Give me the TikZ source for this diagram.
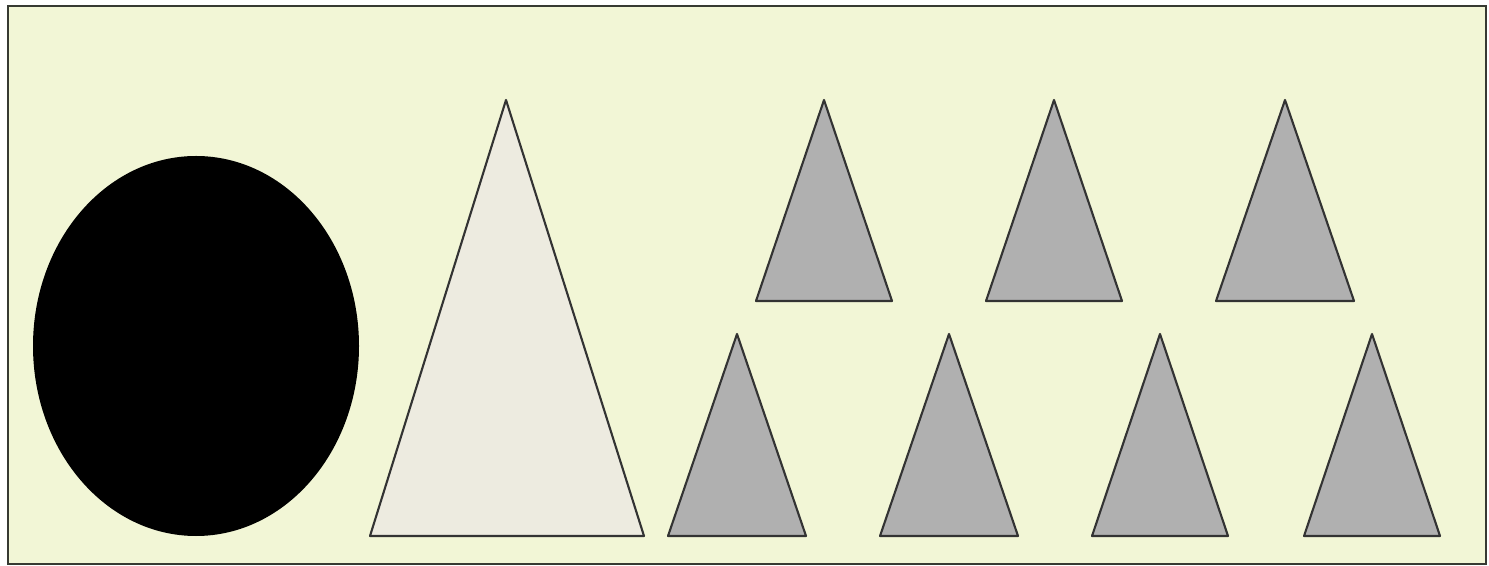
\documentclass[tikz,border=0pt]{standalone}
\usepackage{tikz}
\usetikzlibrary{positioning}
\definecolor{paleground}{RGB}{242, 246, 214}
\definecolor{conelight}{RGB}{237, 235, 224}
\definecolor{conegray}{RGB}{176, 176, 176}
\definecolor{frameline}{RGB}{55, 58, 50}

\begin{document}
\begin{tikzpicture}[
    x=0.1mm, y=-0.1mm,
    frame/.style={draw=frameline, line width=0.8pt, fill=paleground},
    cone/.style={draw=black!80, line width=0.6pt, line join=round, fill=conegray},
    bigcone/.style={cone, fill=conelight}
]

    \useasboundingbox (0,0) rectangle (1489,566);
    \draw[frame] (8,6) rectangle (1486,564);

    % black ellipse
    \fill[black] (196,346) ellipse [x radius=163, y radius=190];

    % large triangle
    \draw[bigcone] (506,100) -- (644,536) -- (370,536) -- cycle;

    % upper row
    \draw[cone] (824,100) -- (892,301) -- (756,301) -- cycle;
    \draw[cone] (1054,100) -- (1122,301) -- (986,301) -- cycle;
    \draw[cone] (1285,100) -- (1354,301) -- (1216,301) -- cycle;

    % lower row
    \draw[cone] (737,334) -- (806,536) -- (668,536) -- cycle;
    \draw[cone] (949,334) -- (1018,536) -- (880,536) -- cycle;
    \draw[cone] (1160,334) -- (1228,536) -- (1092,536) -- cycle;
    \draw[cone] (1372,334) -- (1440,536) -- (1304,536) -- cycle;

\end{tikzpicture}
\end{document}
